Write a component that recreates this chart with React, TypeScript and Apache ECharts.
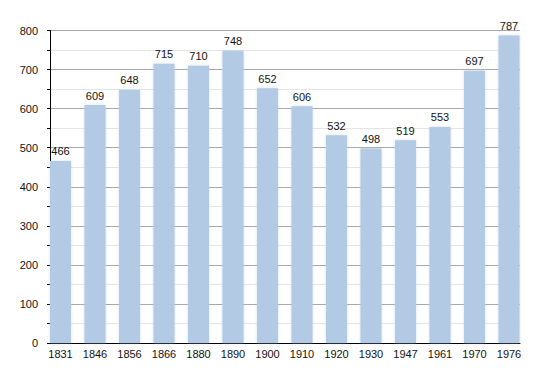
import React, { useEffect, useRef } from "react";
import * as echarts from "echarts";

const years = ["1831", "1846", "1856", "1866", "1880", "1890", "1900", "1910", "1920", "1930", "1947", "1961", "1970", "1976"];
const population = [466, 609, 648, 715, 710, 748, 652, 606, 532, 498, 519, 553, 697, 787];
const yMin = 0;
const yMax = 800;
const yInterval = 100;

export default function App() {
  const ref = useRef<HTMLDivElement>(null);
  useEffect(() => {
    if (!ref.current) return;
    const chart = echarts.init(ref.current, undefined, { renderer: "svg" });
    const font = "'Liberation Sans', Arial, sans-serif";
    chart.setOption({
      animation: false,
      backgroundColor: "#ffffff",
      textStyle: { fontFamily: font },
      grid: [
        { left: 50, right: 30, top: 30.5, bottom: 30 },
        { left: 43.25, width: 483, top: 30.5, bottom: 30 },
      ],
      xAxis: [
        {
          type: "category",
          gridIndex: 0,
          data: years,
          axisLine: { show: true, lineStyle: { color: "#000", width: 1 } },
          axisTick: { show: false },
          axisLabel: { show: false },
          splitLine: { show: false },
        },
        {
          type: "category",
          gridIndex: 1,
          data: years,
          boundaryGap: true,
          axisLine: { show: false },
          axisTick: { show: false },
          axisLabel: { color: "#111", fontSize: 11, margin: 5, fontFamily: font, interval: 0 },
          splitLine: { show: false },
        },
      ],
      yAxis: [
        {
          type: "value",
          gridIndex: 0,
          min: yMin,
          max: yMax,
          interval: yInterval,
          axisLine: { show: true, lineStyle: { color: "#000", width: 1 } },
          axisTick: { show: true, inside: false, length: 3, lineStyle: { color: "#000" } },
          minorTick: { show: true, splitNumber: 2, length: 3, lineStyle: { color: "#000" } },
          axisLabel: { color: "#111", fontSize: 11, margin: 12, fontFamily: font },
          splitLine: { show: true, lineStyle: { color: "#a8a8a8", width: 1 } },
          minorSplitLine: { show: true, lineStyle: { color: "#e4e4e4", width: 1 } },
        },
        {
          type: "value",
          gridIndex: 1,
          min: yMin,
          max: yMax,
          interval: yInterval,
          show: false,
          splitLine: { show: false },
        },
      ],
      series: [
        {
          type: "bar",
          xAxisIndex: 1,
          yAxisIndex: 1,
          data: population,
          barWidth: 21,
          itemStyle: {
            color: "#b2cae4",
            shadowColor: "rgba(178,202,228,0.6)",
            shadowBlur: 3,
          },
          label: {
            show: true,
            position: "top",
            distance: 4,
            color: "#111",
            fontSize: 11,
            fontFamily: font,
          },
        },
      ],
    });
    return () => chart.dispose();
  }, []);
  return <div ref={ref} style={{ position: "absolute", left: 0, top: 0, width: 550, height: 373 }} />;
}
